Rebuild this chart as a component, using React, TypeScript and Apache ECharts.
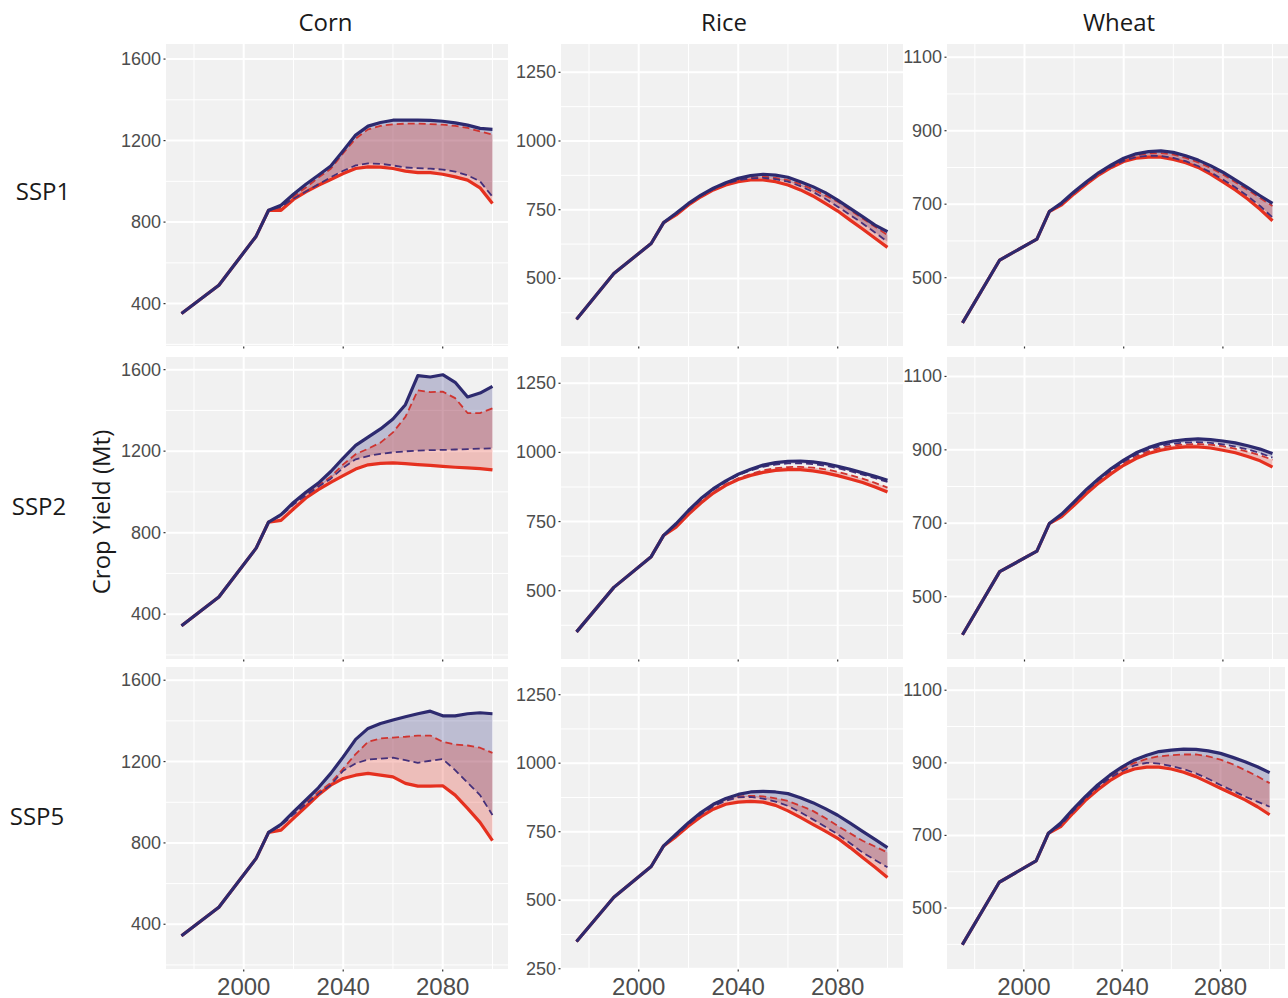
import React, { useEffect, useRef } from 'react';
import * as echarts from 'echarts';

// ---------- data ----------
const years = [1975, 1990, 2005, 2010, 2015, 2020, 2025, 2030, 2035, 2040, 2045, 2050, 2055, 2060, 2065, 2070, 2075, 2080, 2085, 2090, 2095, 2100];

const crops = ['Corn', 'Rice', 'Wheat'];
const scenarios = ['SSP1', 'SSP2', 'SSP5'];

// Corn
const cornSSP1Hist = [351, 490, 731, 858];
const cornSSP1NavySolid = [883, 937, 986, 1030, 1075, 1150, 1227, 1271, 1289, 1300, 1300, 1300, 1299, 1295, 1287, 1276, 1260, 1255];
const cornSSP1RedDashed = [870, 925, 970, 1018, 1062, 1138, 1210, 1255, 1272, 1280, 1283, 1283, 1281, 1278, 1272, 1262, 1245, 1230];
const cornSSP1NavyDashed = [875, 915, 950, 985, 1020, 1052, 1078, 1088, 1086, 1078, 1068, 1065, 1062, 1058, 1048, 1030, 1000, 925];
const cornSSP1RedSolid = [858, 911, 948, 981, 1009, 1038, 1063, 1071, 1070, 1063, 1050, 1043, 1043, 1035, 1022, 1006, 968, 891];

const cornSSP2Hist = [343, 484, 724, 852];
const cornSSP2NavySolid = [888, 948, 998, 1043, 1100, 1166, 1228, 1269, 1309, 1358, 1428, 1571, 1564, 1575, 1538, 1466, 1485, 1518];
const cornSSP2RedDashed = [886, 943, 990, 1032, 1075, 1135, 1185, 1212, 1242, 1292, 1368, 1498, 1490, 1492, 1460, 1387, 1387, 1410];
const cornSSP2NavyDashed = [884, 938, 983, 1025, 1065, 1118, 1160, 1176, 1187, 1194, 1199, 1203, 1205, 1206, 1208, 1210, 1212, 1214];
const cornSSP2RedSolid = [860, 916, 970, 1011, 1047, 1080, 1112, 1133, 1140, 1142, 1139, 1134, 1130, 1125, 1121, 1118, 1114, 1108];

const cornSSP5Hist = [343, 484, 724, 852];
const cornSSP5NavySolid = [891, 953, 1011, 1071, 1142, 1223, 1309, 1363, 1387, 1404, 1420, 1435, 1448, 1425, 1425, 1435, 1440, 1435];
const cornSSP5RedDashed = [888, 945, 1000, 1050, 1095, 1165, 1237, 1297, 1314, 1318, 1322, 1328, 1328, 1297, 1284, 1279, 1268, 1243];
const cornSSP5NavyDashed = [885, 940, 990, 1040, 1085, 1155, 1191, 1210, 1214, 1219, 1207, 1194, 1204, 1212, 1158, 1096, 1035, 937];
const cornSSP5RedSolid = [863, 921, 978, 1035, 1084, 1117, 1133, 1142, 1133, 1125, 1093, 1079, 1079, 1081, 1035, 970, 901, 811];

// Rice
const riceSSP1Hist = [351, 518, 627, 703];
const riceSSP1NavySolid = [737, 773, 803, 828, 848, 864, 874, 879, 876, 868, 852, 834, 812, 785, 755, 725, 694, 670];
const riceSSP1RedDashed = [735, 770, 801, 826, 845, 859, 867, 870, 866, 858, 843, 824, 802, 779, 749, 718, 688, 658];
const riceSSP1NavyDashed = [734, 769, 800, 825, 844, 857, 864, 866, 861, 852, 836, 815, 790, 761, 731, 700, 667, 633];
const riceSSP1RedSolid = [731, 767, 797, 822, 840, 852, 858, 858, 852, 840, 822, 800, 773, 745, 712, 680, 646, 613];

const riceSSP2Hist = [351, 512, 623, 700];
const riceSSP2NavySolid = [742, 790, 833, 869, 897, 921, 939, 954, 963, 968, 969, 966, 960, 950, 939, 926, 914, 899];
const riceSSP2RedDashed = [733, 779, 820, 856, 885, 906, 922, 935, 943, 947, 948, 945, 939, 930, 918, 905, 890, 873];
const riceSSP2NavyDashed = [740, 787, 829, 865, 893, 918, 935, 948, 956, 960, 961, 958, 952, 943, 932, 920, 907, 893];
const riceSSP2RedSolid = [730, 776, 817, 853, 881, 902, 917, 928, 935, 938, 938, 933, 926, 916, 904, 891, 875, 857];

const riceSSP5Hist = [349, 511, 623, 698];
const riceSSP5NavySolid = [741, 783, 820, 850, 871, 886, 895, 897, 895, 889, 874, 856, 834, 810, 781, 751, 722, 692];
const riceSSP5RedDashed = [737, 778, 815, 845, 866, 878, 881, 879, 872, 862, 845, 826, 800, 771, 744, 717, 696, 674];
const riceSSP5NavyDashed = [736, 777, 813, 843, 863, 875, 877, 871, 860, 844, 821, 795, 768, 741, 708, 674, 647, 620];
const riceSSP5RedSolid = [732, 771, 805, 832, 850, 858, 861, 858, 846, 826, 802, 777, 752, 726, 692, 656, 620, 583];

// Wheat
const wheatSSP1Hist = [377, 548, 605, 680];
const wheatSSP1NavySolid = [704, 734, 761, 786, 807, 825, 837, 843, 845, 841, 832, 820, 805, 787, 766, 745, 723, 702];
const wheatSSP1RedDashed = [702, 732, 759, 784, 805, 822, 833, 838, 839, 835, 826, 814, 799, 781, 760, 739, 717, 695];
const wheatSSP1NavyDashed = [700, 730, 757, 782, 802, 818, 828, 832, 831, 826, 817, 804, 787, 767, 746, 722, 695, 664];
const wheatSSP1RedSolid = [698, 728, 755, 780, 800, 816, 825, 828, 828, 822, 813, 800, 782, 761, 739, 714, 686, 655];

const wheatSSP2Hist = [396, 568, 624, 699];
const wheatSSP2NavySolid = [725, 758, 792, 822, 849, 872, 892, 906, 917, 924, 928, 930, 928, 924, 919, 911, 902, 890];
const wheatSSP2RedDashed = [721, 753, 786, 815, 841, 864, 882, 896, 906, 912, 915, 916, 914, 910, 903, 895, 885, 873];
const wheatSSP2NavyDashed = [723, 756, 789, 819, 845, 868, 887, 901, 911, 917, 920, 921, 919, 915, 909, 901, 891, 879];
const wheatSSP2RedSolid = [718, 749, 781, 810, 835, 858, 876, 890, 899, 905, 908, 908, 905, 899, 892, 882, 870, 853];

const wheatSSP5Hist = [399, 571, 630, 706];
const wheatSSP5NavySolid = [734, 772, 807, 839, 866, 889, 908, 921, 931, 935, 938, 937, 933, 926, 915, 903, 889, 873];
const wheatSSP5RedDashed = [730, 768, 803, 835, 862, 884, 900, 911, 918, 921, 923, 923, 918, 909, 896, 880, 863, 844];
const wheatSSP5NavyDashed = [728, 766, 800, 832, 858, 878, 893, 900, 898, 891, 883, 871, 856, 839, 823, 807, 793, 779];
const wheatSSP5RedSolid = [724, 761, 796, 825, 851, 871, 883, 888, 888, 883, 874, 862, 846, 830, 814, 798, 779, 757];

// axis ranges per row (SSP1, SSP2, SSP5)
const cornYRange = [[192, 1674], [180, 1662], [180, 1665]];
const riceYRange = [[254, 1353], [253, 1345], [249, 1351]];
const wheatYRange = [[314, 1136], [330, 1153], [332, 1164]];
const yearRange = [1968.75, 2106.25];

// tick labels / grid lines
const cornMajorTicks = [400, 800, 1200, 1600];
const cornMinorTicks = [200, 600, 1000, 1400];
const riceMajorTicks = [250, 500, 750, 1000, 1250];
const riceMinorTicks = [375, 625, 875, 1125];
const wheatMajorTicks = [500, 700, 900, 1100];
const wheatMinorTicks = [400, 600, 800, 1000];
const yearMajorTicks = [2000, 2040, 2080];
const yearMinorTicks = [1980, 2020, 2060, 2100];

// ---------- assembly ----------
const panelData = [
  [
    [cornSSP1Hist, cornSSP1NavySolid, cornSSP1NavyDashed, cornSSP1RedDashed, cornSSP1RedSolid],
    [riceSSP1Hist, riceSSP1NavySolid, riceSSP1NavyDashed, riceSSP1RedDashed, riceSSP1RedSolid],
    [wheatSSP1Hist, wheatSSP1NavySolid, wheatSSP1NavyDashed, wheatSSP1RedDashed, wheatSSP1RedSolid],
  ],
  [
    [cornSSP2Hist, cornSSP2NavySolid, cornSSP2NavyDashed, cornSSP2RedDashed, cornSSP2RedSolid],
    [riceSSP2Hist, riceSSP2NavySolid, riceSSP2NavyDashed, riceSSP2RedDashed, riceSSP2RedSolid],
    [wheatSSP2Hist, wheatSSP2NavySolid, wheatSSP2NavyDashed, wheatSSP2RedDashed, wheatSSP2RedSolid],
  ],
  [
    [cornSSP5Hist, cornSSP5NavySolid, cornSSP5NavyDashed, cornSSP5RedDashed, cornSSP5RedSolid],
    [riceSSP5Hist, riceSSP5NavySolid, riceSSP5NavyDashed, riceSSP5RedDashed, riceSSP5RedSolid],
    [wheatSSP5Hist, wheatSSP5NavySolid, wheatSSP5NavyDashed, wheatSSP5RedDashed, wheatSSP5RedSolid],
  ],
];
const yRanges = [cornYRange, riceYRange, wheatYRange];
const majorTicks = [cornMajorTicks, riceMajorTicks, wheatMajorTicks];
const minorTicks = [cornMinorTicks, riceMinorTicks, wheatMinorTicks];
const labelStep = [200, 50, 100];

const gridLeft = [166, 561, 947];
const gridTop = [44, 357, 667];
const gridW = 342;
const gridH = 302;

const NAVY = '#2d2a6f';
const NAVY_DASH = '#44307a';
const RED = '#e5301f';
const RED_DASH = '#cf3430';
const BLUE_FILL = 'rgba(44,42,125,0.26)';
const RED_FILL = 'rgba(228,48,32,0.26)';

const has = (arr: number[], v: number) => arr.some((a) => Math.abs(a - v) < 1e-6);

function buildOption() {
  const grid: any[] = [];
  const xAxis: any[] = [];
  const yAxis: any[] = [];
  const series: any[] = [];

  for (let r = 0; r < 3; r++) {
    for (let c = 0; c < 3; c++) {
      const idx = r * 3 + c;
      const [yMin, yMax] = yRanges[c][r];
      const [xMin, xMax] = yearRange;
      grid.push({
        left: gridLeft[c], top: gridTop[r], width: gridW, height: gridH,
        show: true, backgroundColor: '#f1f1f1', borderWidth: 0,
      });
      xAxis.push({
        type: 'value', gridIndex: idx, min: xMin, max: xMax,
        splitNumber: 7, minInterval: 20, maxInterval: 20,
        axisLine: { show: false }, axisTick: { show: false }, splitLine: { show: false },
        axisLabel: {
          show: r === 2, margin: 5, fontSize: 24, color: '#4d4d4d',
          fontFamily: "'Liberation Sans Narrow', 'Liberation Sans', Arial, sans-serif",
          formatter: (v: number) => (has(yearMajorTicks, v) ? String(v) : ''),
        },
      });
      const maj = majorTicks[c];
      yAxis.push({
        type: 'value', gridIndex: idx, min: yMin, max: yMax,
        splitNumber: 20, minInterval: labelStep[c], maxInterval: labelStep[c],
        axisLine: { show: false }, axisTick: { show: false }, splitLine: { show: false },
        axisLabel: {
          margin: 5, fontSize: 18, color: '#4d4d4d',
          fontFamily: "'Liberation Sans', Arial, sans-serif",
          formatter: (v: number) => (has(maj, v) ? String(v) : ''),
        },
      });

      const yMaj = maj.filter((v) => v >= yMin && v <= yMax);
      const yMin2 = minorTicks[c].filter((v) => v >= yMin && v <= yMax);

      // panel grid lines and axis ticks, positioned through the axes' scales
      series.push({
        type: 'custom', xAxisIndex: idx, yAxisIndex: idx, silent: true, z: 1, clip: false,
        data: [[xMin, yMin]],
        renderItem: (_p: any, api: any) => {
          const children: any[] = [];
          const seg = (a: number[], b: number[], stroke: string, lineWidth: number) =>
            children.push({ type: 'line', shape: { x1: a[0], y1: a[1], x2: b[0], y2: b[1] }, style: { stroke, lineWidth } });
          yMin2.forEach((v) => seg(api.coord([xMin, v]), api.coord([xMax, v]), '#ffffff', 1));
          yearMinorTicks.forEach((v) => seg(api.coord([v, yMin]), api.coord([v, yMax]), '#ffffff', 1));
          yMaj.forEach((v) => seg(api.coord([xMin, v]), api.coord([xMax, v]), '#ffffff', 2));
          yearMajorTicks.forEach((v) => seg(api.coord([v, yMin]), api.coord([v, yMax]), '#ffffff', 2));
          // short tick marks
          yMaj.forEach((v) => {
            const p = api.coord([xMin, v]);
            seg([p[0] - 2.5, p[1]], [p[0] - 0.5, p[1]], '#333333', 1.2);
          });
          yearMajorTicks.forEach((v) => {
            const p = api.coord([v, yMin]);
            seg([p[0], p[1] + 0.5], [p[0], p[1] + 2.5], '#333333', 1.2);
          });
          return { type: 'group', children };
        },
      });

      const [hist, ns, nd, rd, rs] = panelData[r][c];
      const full = (f: number[]) => hist.concat(f);
      const NS = full(ns), ND = full(nd), RD = full(rd), RS = full(rs);
      const pairs = (vals: number[]) => years.map((y, k) => [y, vals[k]]);

      const band = (upper: number[], lower: number[], fill: string) => ({
        type: 'custom', xAxisIndex: idx, yAxisIndex: idx, silent: true, z: 2, clip: true,
        data: [[years[10], upper[10]]],
        renderItem: (_p: any, api: any) => {
          const pts: number[][] = [];
          for (let k = 0; k < years.length; k++) pts.push(api.coord([years[k], upper[k]]));
          for (let k = years.length - 1; k >= 0; k--) pts.push(api.coord([years[k], lower[k]]));
          return { type: 'polygon', shape: { points: pts }, style: { fill } };
        },
      });
      series.push(band(NS, ND, BLUE_FILL));
      series.push(band(RD, RS, RED_FILL));

      const line = (vals: number[], color: string, width: number, dashed: boolean) => ({
        type: 'line', xAxisIndex: idx, yAxisIndex: idx, data: pairs(vals),
        showSymbol: false, symbol: 'none', silent: true, z: 3,
        lineStyle: { color, width, type: dashed ? [7, 4] : 'solid', cap: 'butt', join: 'round' },
        emphasis: { disabled: true },
      });
      series.push(line(RS, RED, 3.2, false));
      series.push(line(RD, RED_DASH, 1.8, true));
      series.push(line(ND, NAVY_DASH, 1.8, true));
      series.push(line(NS, NAVY, 3.2, false));
    }
  }

  const titleFont = "'Open Sans', 'Noto Sans', sans-serif";
  const titleX = [325.5, 724, 1119];
  const rowLabelX = [43, 39, 37];
  const rowLabelY = [190, 505, 815];
  const graphic: any[] = [];
  crops.forEach((t, i) => graphic.push({
    type: 'text', x: titleX[i], y: 21, silent: true,
    style: { text: t, fontSize: 24, fontFamily: titleFont, fill: '#1a1a1a', align: 'center', verticalAlign: 'middle' },
  }));
  scenarios.forEach((t, i) => graphic.push({
    type: 'text', x: rowLabelX[i], y: rowLabelY[i], silent: true,
    style: { text: t, fontSize: 24, fontFamily: titleFont, fill: '#1a1a1a', align: 'center', verticalAlign: 'middle' },
  }));
  graphic.push({
    type: 'text', x: 100, y: 512, rotation: Math.PI / 2, silent: true,
    style: { text: 'Crop Yield (Mt)', fontSize: 24, fontFamily: titleFont, fill: '#1a1a1a', align: 'center', verticalAlign: 'middle' },
  });

  return { animation: false, backgroundColor: '#ffffff', grid, xAxis, yAxis, series, graphic };
}

export default function App() {
  const ref = useRef<HTMLDivElement>(null);
  useEffect(() => {
    if (!ref.current) return;
    const chart = echarts.init(ref.current, null, { renderer: 'svg' });
    chart.setOption(buildOption() as any);
    return () => chart.dispose();
  }, []);
  return <div ref={ref} style={{ position: 'absolute', left: 0, top: 0, width: 1288, height: 998 }} />;
}
